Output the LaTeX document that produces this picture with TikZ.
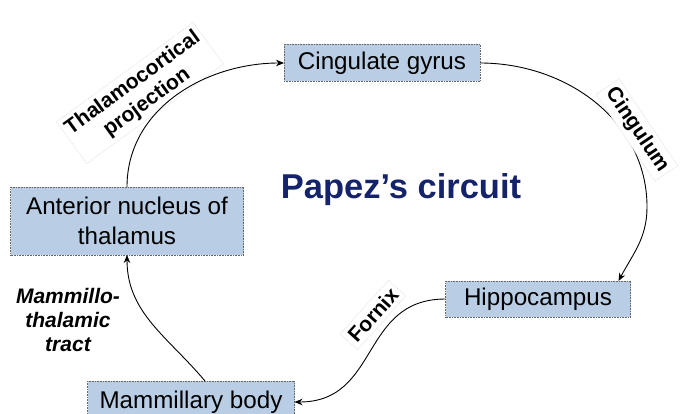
\documentclass[tikz,border=0pt]{standalone}
\usepackage{fontspec}
\setmainfont{Liberation Sans}
\usetikzlibrary{arrows.meta}
\definecolor{boxblue}{HTML}{B9CDE5}
\definecolor{titlenavy}{HTML}{15236A}
\begin{document}
\begin{tikzpicture}[x=1pt,y=1pt,inner sep=0pt,outer sep=0pt,line width=0.9pt,
>={Stealth[length=8pt,width=6.5pt]},
brainbox/.style={draw=black!60,densely dotted,fill=boxblue,rectangle,line width=0.6pt,align=center,font=\fontsize{24.2}{30}\selectfont},
tractlabel/.style={draw=black!10,densely dotted,fill=white,inner sep=4pt,align=center,font=\fontsize{21}{24}\selectfont\bfseries}]
\useasboundingbox (0,0) rectangle (684,413);
\draw (382,350) node[brainbox,minimum width=196pt,minimum height=37pt] (cing) {Cingulate gyrus};
\draw (127,192) node[brainbox,minimum width=233pt,minimum height=68pt] (ant) {Anterior nucleus of\\thalamus};
\draw (538,114) node[brainbox,minimum width=185pt,minimum height=36pt] (hip) {Hippocampus};
\draw (191,11) node[brainbox,minimum width=207pt,minimum height=42pt] (mam) {Mammillary body};
\node[text=titlenavy,font=\fontsize{34.5}{40}\selectfont\bfseries] (title) at (401,223) {Papez's circuit};
% tract labels
\node[tractlabel,rotate=36] (thal) at (140,320) {Thalamocortical\\projection};
\node[tractlabel,rotate=48] (forn) at (373,98) {Fornix};
\node[align=center,font=\fontsize{21}{24}\selectfont\bfseries\itshape] (mtt) at (68,93) {Mammillo-\\thalamic\\tract};
\coordinate (cbend) at (647,206);
\draw[->] (ant.north) to[out=90,in=180] (cing.west);
\draw[->] (cing.east) to[out=0,in=90] (cbend) to[out=-90,in=62] ([xshift=-12pt]hip.north east);
\draw[->] (hip.west) to[out=180,in=0,looseness=1.2] (mam.east);
\draw[->] ([xshift=14pt]mam.north) to[out=130,in=-90] (ant.south);
\node[tractlabel,rotate=-56] (cingl) at (637,283) {Cingulum};
\end{tikzpicture}
\end{document}
